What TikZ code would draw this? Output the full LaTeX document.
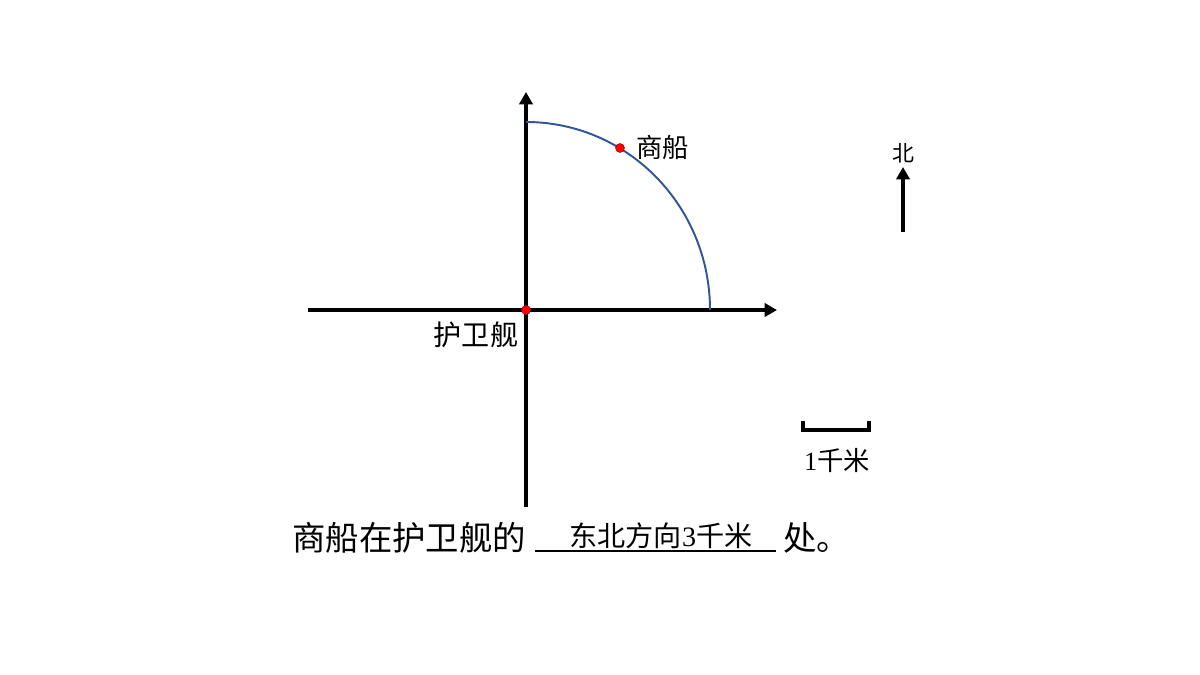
\documentclass[tikz,border=0pt]{standalone}
\usepackage{fontspec}
\setmainfont{Liberation Serif}
\newfontfamily\cjk{Noto Sans CJK SC}
\usetikzlibrary{arrows.meta}
\definecolor{arcblue}{RGB}{47,85,151}
\tikzset{
  axis/.style={line width=2.3pt,-{Stealth[inset=0pt,length=7pt,width=7.5pt]}},
  dot/.style={circle,fill=red,draw=red!70!black,line width=0.3pt,inner sep=0pt,minimum size=0.18cm},
  lbl/.style={font=\cjk\fontsize{15}{18}\selectfont,inner sep=1pt}
}

\begin{document}
\begin{tikzpicture}[x=0.02cm,y=-0.02cm]
  \useasboundingbox (0,0) rectangle (1200,675);
  \coordinate (O) at (526,310);
  \coordinate (W) at (308,310);
  \coordinate (E) at (777,310);
  \coordinate (S) at (526,507);
  \coordinate (N) at (526,92);
  \draw[axis] (W) -- (E);
  \draw[axis] (S) -- (N);
  \draw[arcblue,line width=1.1pt] (710,310) arc[start angle=0,end angle=-90,x radius=184,y radius=188];
  \node[dot] (frigate) at (O) {};
  \node[dot] (ship) at (620,148) {};
  \node[lbl,anchor=west] (shiplbl) at (634,148) {商船};
  \node[lbl,font=\cjk\fontsize{16}{18}\selectfont] (frigatelbl) at (476,335) {护卫舰};
  % north arrow
  \coordinate (nb) at (903,232);
  \coordinate (nt) at (903,167);
  \draw[axis,line width=1.9pt] (nb) -- (nt);
  \node[lbl,font=\cjk\fontsize{12.5}{14}\selectfont] (north) at (903,153) {北};
  % scale bar
  \draw[line width=2pt] (803,421) -- (803,430) -- (869,430) -- (869,421);
  \node[font=\fontsize{15}{18}\selectfont] (unit) at (837,460) {1{\cjk 千米}};
  % sentence
  \node[anchor=base west,inner sep=0pt,font=\cjk\fontsize{19}{22}\selectfont] (question) at (292,550) {商船在护卫舰的};
  \draw[line width=1.4pt] (535,551) -- (776,551);
  \node[anchor=base,font=\fontsize{16}{18}\selectfont,inner sep=0pt] (answer) at (661,546) {{\cjk 东北方向}3{\cjk 千米}};
  \node[anchor=base west,inner sep=0pt,font=\cjk\fontsize{19}{22}\selectfont] (tail) at (783,550) {处。};
\end{tikzpicture}
\end{document}
